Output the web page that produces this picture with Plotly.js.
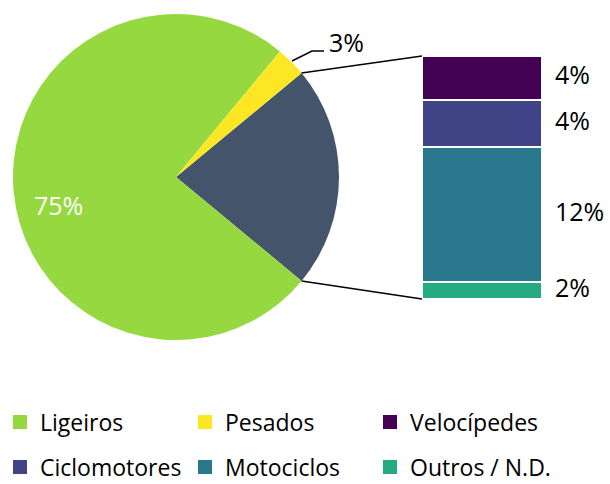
<!DOCTYPE html>
<html>
<head>
<meta charset="utf-8">
<script src="https://cdn.plot.ly/plotly-3.0.1.min.js"></script>
<style>html,body{margin:0;padding:0;background:#fff;}#chart{width:610px;height:484px;}</style>
</head>
<body>
<div id="chart"></div>
<script>
// ---- data ----
const pieLabels = ['Ligeiros', 'Pesados'];
const pieValues = [75, 3];
const pieColors = ['#95D840', '#FDE725'];
const otherLabel = 'Outros veículos';
const otherColor = '#44546A';

const barLabels = ['Velocípedes', 'Ciclomotores', 'Motociclos', 'Outros / N.D.'];
const barValues = [4.0, 4.2, 12.3, 1.5];
const barColors = ['#440154', '#414487', '#2A788E', '#25AB82'];

// ---- geometry (layout) ----
const W = 610, H = 484;
const FONT = 'Open Sans, Noto Sans, sans-serif';
const LBL = 25, LEG = 23;
const cx = 176, cy = 177, R = 163;             // pie centre / radius in px
const barL = 422, barW = 120, barTop = 56, barBot = 299; // bar box in px

const otherTotal = barValues.reduce((a, b) => a + b, 0);
const total = pieValues.reduce((a, b) => a + b, 0) + otherTotal;
const halfOther = otherTotal / total * 180;     // half angle of grouped slice (deg)
const rotation = 90 - halfOther;

const px2x = p => p / W;
const py2y = p => 1 - p / H;

// pie trace: grouped slice first, clockwise
const pie = {
  type: 'pie',
  labels: [otherLabel].concat(pieLabels),
  values: [otherTotal].concat(pieValues),
  marker: {colors: [otherColor].concat(pieColors), line: {width: 0}},
  sort: false,
  direction: 'clockwise',
  rotation: rotation,
  textinfo: 'none',
  domain: {x: [px2x(cx - R), px2x(cx + R)], y: [py2y(cy + R), py2y(cy - R)]},
  hoverinfo: 'none',
  showlegend: false
};

const traces = [pie];

// stacked bar (y axis reversed so the first series is on top)
barLabels.forEach((l, i) => {
  traces.push({type: 'bar', x: [0], y: [barValues[i]], width: 1, name: l,
    marker: {color: barColors[i], line: {color: '#ffffff', width: 2}},
    showlegend: false, hoverinfo: 'none'});
});

// legend entries (square markers) for all categories
const legLabels = pieLabels.concat(barLabels);
const legColors = pieColors.concat(barColors);
legLabels.forEach((l, i) => {
  traces.push({type: 'scatter', mode: 'markers', x: [null], y: [null], name: l,
    marker: {symbol: 'square', size: 14, color: legColors[i]},
    legend: i < 3 ? 'legend' : 'legend2', hoverinfo: 'none'});
});

// bar labels
const centers = [];
let acc = 0;
barValues.forEach(v => { centers.push(acc + v / 2); acc += v; });
const xMax = -0.5 + (W - barL) / barW;
const labelX = -0.5 + (555 - barL) / barW;
traces.push({type: 'scatter', mode: 'text', x: barValues.map(() => labelX), y: centers,
  text: barValues.map(v => Math.round(v) + '%'), textposition: 'middle right',
  textfont: {size: LBL, color: '#000000', family: FONT}, showlegend: false, hoverinfo: 'none', cliponaxis: false});

// connector lines from pie to bar
const a = halfOther * Math.PI / 180;
const topEdge = [cx + R * Math.cos(a), cy - R * Math.sin(a)];
const botEdge = [cx + R * Math.cos(a), cy + R * Math.sin(a)];
// Pesados leader line
const pesMid = (halfOther + pieValues[1] / total * 180) * Math.PI / 180;
const pEdge = [cx + (R + 1) * Math.cos(pesMid), cy - (R + 1) * Math.sin(pesMid)];
const pElbow = [pEdge[0] + 20, pEdge[1] - 10];
const pEnd = [pElbow[0] + 12, pElbow[1]];
// Ligeiros label position (inside the slice, lower-left)
const ligAng = 193.3 * Math.PI / 180;
const ligPos = [cx + 0.74 * R * Math.cos(ligAng), cy - 0.74 * R * Math.sin(ligAng)];

const shapes = [
  {type: 'line', xref: 'paper', yref: 'paper', x0: px2x(topEdge[0]), y0: py2y(topEdge[1]), x1: px2x(barL), y1: py2y(barTop), line: {color: '#000', width: 1.5}},
  {type: 'line', xref: 'paper', yref: 'paper', x0: px2x(botEdge[0]), y0: py2y(botEdge[1]), x1: px2x(barL), y1: py2y(barBot), line: {color: '#000', width: 1.5}},
  {type: 'path', xref: 'paper', yref: 'paper',
   path: `M${px2x(pEdge[0])},${py2y(pEdge[1])} L${px2x(pElbow[0])},${py2y(pElbow[1])} L${px2x(pEnd[0])},${py2y(pEnd[1])}`,
   line: {color: '#000', width: 1.5}}
];

const annotations = [
  {xref: 'paper', yref: 'paper', x: px2x(pEnd[0] + 3), y: py2y(pEnd[1] - 9), xanchor: 'left', yanchor: 'middle',
   text: Math.round(pieValues[1] / total * 100) + '%', showarrow: false, font: {size: LBL, color: '#000', family: FONT}},
  {xref: 'paper', yref: 'paper', x: px2x(ligPos[0]), y: py2y(ligPos[1]), xanchor: 'center', yanchor: 'middle',
   text: Math.round(pieValues[0] / total * 100) + '%', showarrow: false, font: {size: LBL, color: '#fff', family: FONT}}
];

const legendBase = {orientation: 'h', x: 0, xanchor: 'left', yanchor: 'middle', entrywidth: 140,
  font: {size: LEG, color: '#000', family: FONT}, bgcolor: 'rgba(0,0,0,0)', traceorder: 'normal'};

const layout = {
  width: W, height: H,
  margin: {l: 0, r: 0, t: 0, b: 0, autoexpand: false},
  paper_bgcolor: '#ffffff', plot_bgcolor: '#ffffff',
  font: {family: FONT, color: '#000'},
  barmode: 'stack',
  xaxis: {domain: [px2x(barL), 1], range: [-0.5, xMax], visible: false, fixedrange: true},
  yaxis: {domain: [py2y(barBot), py2y(barTop)], range: [otherTotal, 0], visible: false, fixedrange: true},
  shapes: shapes,
  annotations: annotations,
  legend: Object.assign({}, legendBase, {y: py2y(422)}),
  legend2: Object.assign({}, legendBase, {y: py2y(467)}),
  showlegend: true
};

Plotly.newPlot('chart', traces, layout, {displayModeBar: false, staticPlot: true});
</script>
</body>
</html>
